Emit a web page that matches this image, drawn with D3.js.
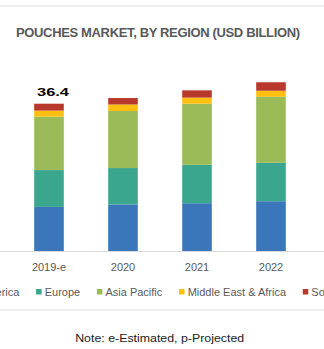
<!DOCTYPE html>
<html>
<head>
<meta charset="utf-8">
<script src="https://cdn.jsdelivr.net/npm/d3@7/dist/d3.min.js"></script>
<style>
  html, body { margin: 0; padding: 0; background: #fff; }
  svg { display: block; font-family: "Liberation Sans", Arial, sans-serif; }
</style>
</head>
<body>
<svg id="chart" width="324" height="349"></svg>
<script>
const categories = ["2019-e", "2020", "2021", "2022"];
const regions = ["North America", "Europe", "Asia Pacific", "Middle East & Africa", "South America"];
const northAmerica = [10.9, 11.5, 11.8, 12.3];
const europe = [9.1, 9.0, 9.5, 9.5];
const asiaPacific = [13.2, 14.1, 15.1, 16.3];
const middleEastAfrica = [1.5, 1.6, 1.5, 1.5];
const southAmerica = [1.7, 1.6, 1.8, 2.1];
const totalLabels = ["36.4", null, null, null];
const colors = ["#3a76b9", "#3aa68e", "#9bbb59", "#fdc010", "#b8392c"];
const titleText = "POUCHES MARKET, BY REGION (USD BILLION)";
const noteText = "Note: e-Estimated, p-Projected";

const seriesValues = [northAmerica, europe, asiaPacific, middleEastAfrica, southAmerica];
const rows = categories.map((c, i) => {
  const r = { category: c };
  regions.forEach((reg, k) => { r[reg] = seriesValues[k][i]; });
  return r;
});

const svg = d3.select("#chart");
const W = 324;

// separator lines
svg.append("line").attr("x1", 0).attr("x2", W).attr("y1", 6).attr("y2", 6)
  .attr("stroke", "#ececec").attr("stroke-width", 2);
svg.append("line").attr("x1", 0).attr("x2", W).attr("y1", 310).attr("y2", 310)
  .attr("stroke", "#ececec").attr("stroke-width", 2);

// title
svg.append("text").attr("x", 16).attr("y", 37)
  .attr("font-size", 13).attr("font-weight", "bold").attr("fill", "#595959")
  .attr("letter-spacing", "-0.35px")
  .text(titleText);

const x = d3.scaleBand().domain(categories).range([12, 308])
  .paddingInner(0.6).paddingOuter(0.3);
const y = d3.scaleLinear().domain([0, 36.4]).range([251, 103.7]);

const stack = d3.stack().keys(regions);
const stacked = stack(rows);

const g = svg.append("g");
g.selectAll("g.series").data(stacked).join("g")
  .attr("class", "series")
  .attr("fill", (d, i) => colors[i])
  .selectAll("rect").data(d => d).join("rect")
  .attr("x", d => x(d.data.category))
  .attr("width", x.bandwidth())
  .attr("y", d => y(d[1]))
  .attr("height", d => y(d[0]) - y(d[1]));

// axis
const xAxis = svg.append("g").attr("transform", "translate(0,251)")
  .call(d3.axisBottom(x).tickSize(0).tickPadding(12));
xAxis.select(".domain").remove();
svg.append("line").attr("x1", 0).attr("x2", W).attr("y1", 251.5).attr("y2", 251.5)
  .attr("stroke", "#d9d9d9").attr("stroke-width", 1);
xAxis.selectAll("text").attr("font-size", 11).attr("fill", "#595959")
  .attr("font-family", "'Liberation Sans', Arial, sans-serif");

// total labels
const totals = categories.map((c, i) => d3.sum(seriesValues, s => s[i]));
svg.selectAll("text.total").data(categories.map((c, i) => ({ c, label: totalLabels[i], total: totals[i] })).filter(d => d.label))
  .join("text").attr("class", "total")
  .attr("x", d => x(d.c) + x.bandwidth() / 2 + 4)
  .attr("y", d => y(d.total) - 7.7)
  .attr("text-anchor", "middle")
  .attr("font-size", 10).attr("font-weight", "bold").attr("fill", "#000")
  .attr("textLength", 32).attr("lengthAdjust", "spacingAndGlyphs")
  .text(d => d.label);

// legend
const legend = svg.append("g");
const items = legend.selectAll("g.item").data(regions).join("g").attr("class", "item");
items.append("rect").attr("width", 5.5).attr("height", 5.5).attr("y", 289)
  .attr("fill", (d, i) => colors[i]);
items.append("text").attr("x", 8.6).attr("y", 295.5)
  .attr("font-size", 11).attr("fill", "#595959").text(d => d);
let widths = [];
items.each(function () { widths.push(d3.select(this).select("text").node().getComputedTextLength()); });
const gap = 16.7;
const totalW = d3.sum(widths, w => 8.6 + w) + gap * (widths.length - 1);
let cx = 162 - totalW / 2;
items.each(function (d, i) {
  d3.select(this).attr("transform", `translate(${cx},0)`);
  cx += 8.6 + widths[i] + gap;
});

// note
svg.append("text").attr("x", 159.7).attr("y", 341.7).attr("text-anchor", "middle")
  .attr("font-size", 11.5).attr("fill", "#222")
  .attr("textLength", 169).attr("lengthAdjust", "spacingAndGlyphs")
  .text(noteText);
</script>
</body>
</html>
